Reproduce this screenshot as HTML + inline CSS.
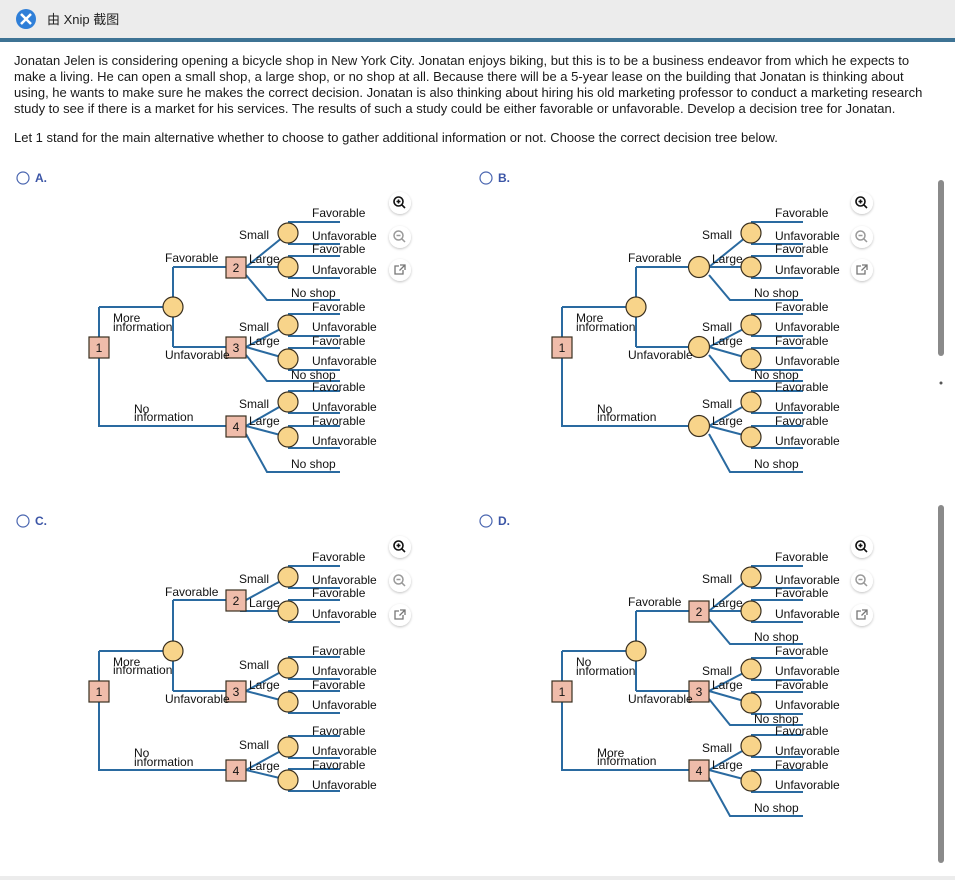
<!DOCTYPE html>
<html><head><meta charset="utf-8"><style>
html,body{margin:0;padding:0;background:#fff;width:955px;height:880px;overflow:hidden}
svg{display:block}
text{font-family:"Liberation Sans",Arial,sans-serif;font-size:12px;fill:#111}
.l{stroke:#2a6aa0;stroke-width:2;fill:none}
.c{fill:#f8d48a;stroke:#3a3020;stroke-width:1.2}
.b{fill:#efbcaa;stroke:#3a3020;stroke-width:1.2}
.p{font-size:13px;fill:#1a1a1a}
.n{text-anchor:middle;font-size:12px}
.e{text-anchor:end}
.opt{font-weight:bold;fill:#3b55a6;font-size:12px}
</style></head><body>
<svg width="955" height="880" viewBox="0 0 955 880" xmlns="http://www.w3.org/2000/svg">
<defs>
<filter id="sh" x="-50%" y="-50%" width="200%" height="200%"><feDropShadow dx="0" dy="1" stdDeviation="1.2" flood-color="#000" flood-opacity="0.25"/></filter>
</defs>
<rect x="0" y="0" width="955" height="38" fill="#ececec"/>
<rect x="0" y="38" width="955" height="4" fill="#3e7394"/>
<circle cx="26" cy="19" r="10" fill="#2f7fd8"/>
<path d="M21 14 L31 24 M31 14 L21 24" stroke="#fff" stroke-width="2.5"/>
<text x="47" y="24" style="font-size:13px;font-family:'Liberation Sans','Noto Sans CJK SC',sans-serif;fill:#222">由 Xnip 截图</text>
<rect x="0" y="876" width="955" height="4" fill="#ececec"/>
<rect x="938" y="180" width="6" height="176" rx="3" fill="#8a8a8a"/>
<rect x="938" y="505" width="6" height="358" rx="3" fill="#8a8a8a"/>
<circle cx="941" cy="383" r="1.5" fill="#555"/>

<text class="p" x="14" y="65">Jonatan Jelen is considering opening a bicycle shop in New York City. Jonatan enjoys biking, but this is to be a business endeavor from which he expects to</text>
<text class="p" x="14" y="81">make a living. He can open a small shop, a large shop, or no shop at all. Because there will be a 5-year lease on the building that Jonatan is thinking about</text>
<text class="p" x="14" y="97">using, he wants to make sure he makes the correct decision. Jonatan is also thinking about hiring his old marketing professor to conduct a marketing research</text>
<text class="p" x="14" y="113">study to see if there is a market for his services. The results of such a study could be either favorable or unfavorable. Develop a decision tree for Jonatan.</text>
<text class="p" x="14" y="142">Let 1 stand for the main alternative whether to choose to gather additional information or not. Choose the correct decision tree below.</text>

<circle cx="23" cy="178" r="6" fill="#fff" stroke="#4a66b0" stroke-width="1.2"/><text class="opt" x="35" y="182">A.</text>
<circle cx="486" cy="178" r="6" fill="#fff" stroke="#4a66b0" stroke-width="1.2"/><text class="opt" x="498" y="182">B.</text>
<circle cx="23" cy="521" r="6" fill="#fff" stroke="#4a66b0" stroke-width="1.2"/><text class="opt" x="35" y="525">C.</text>
<circle cx="486" cy="521" r="6" fill="#fff" stroke="#4a66b0" stroke-width="1.2"/><text class="opt" x="498" y="525">D.</text>

<g filter="url(#sh)"><circle cx="400" cy="203" r="11" fill="#fff"/><circle cx="400" cy="237" r="11" fill="#fff"/><circle cx="400" cy="270" r="11" fill="#fff"/>
<circle cx="862" cy="203" r="11" fill="#fff"/><circle cx="862" cy="237" r="11" fill="#fff"/><circle cx="862" cy="270" r="11" fill="#fff"/>
<circle cx="400" cy="547" r="11" fill="#fff"/><circle cx="400" cy="581" r="11" fill="#fff"/><circle cx="400" cy="615" r="11" fill="#fff"/>
<circle cx="862" cy="547" r="11" fill="#fff"/><circle cx="862" cy="581" r="11" fill="#fff"/><circle cx="862" cy="615" r="11" fill="#fff"/></g>
<g>
<g transform="translate(400,203)"><circle cx="-1.5" cy="-1.5" r="4.5" fill="none" stroke="#111" stroke-width="1.6"/><path d="M1.8 1.8 L5 5 M-1.5 -3.5 V0.5 M-3.5 -1.5 H0.5" stroke="#111" stroke-width="1.6"/></g>
<g transform="translate(400,237)"><circle cx="-1.5" cy="-1.5" r="4.5" fill="none" stroke="#999" stroke-width="1.5"/><path d="M1.8 1.8 L5 5 M-3.5 -1.5 H0.5" stroke="#999" stroke-width="1.5"/></g>
<g transform="translate(400,270)"><path d="M-1 -4 H-5 V4 H3 V0 M0 -5 H5 V0 M5 -5 L-0.5 0.5" fill="none" stroke="#777" stroke-width="1.3"/></g>
<g transform="translate(862,203)"><circle cx="-1.5" cy="-1.5" r="4.5" fill="none" stroke="#111" stroke-width="1.6"/><path d="M1.8 1.8 L5 5 M-1.5 -3.5 V0.5 M-3.5 -1.5 H0.5" stroke="#111" stroke-width="1.6"/></g>
<g transform="translate(862,237)"><circle cx="-1.5" cy="-1.5" r="4.5" fill="none" stroke="#999" stroke-width="1.5"/><path d="M1.8 1.8 L5 5 M-3.5 -1.5 H0.5" stroke="#999" stroke-width="1.5"/></g>
<g transform="translate(862,270)"><path d="M-1 -4 H-5 V4 H3 V0 M0 -5 H5 V0 M5 -5 L-0.5 0.5" fill="none" stroke="#777" stroke-width="1.3"/></g>
<g transform="translate(400,547)"><circle cx="-1.5" cy="-1.5" r="4.5" fill="none" stroke="#111" stroke-width="1.6"/><path d="M1.8 1.8 L5 5 M-1.5 -3.5 V0.5 M-3.5 -1.5 H0.5" stroke="#111" stroke-width="1.6"/></g>
<g transform="translate(400,581)"><circle cx="-1.5" cy="-1.5" r="4.5" fill="none" stroke="#999" stroke-width="1.5"/><path d="M1.8 1.8 L5 5 M-3.5 -1.5 H0.5" stroke="#999" stroke-width="1.5"/></g>
<g transform="translate(400,615)"><path d="M-1 -4 H-5 V4 H3 V0 M0 -5 H5 V0 M5 -5 L-0.5 0.5" fill="none" stroke="#777" stroke-width="1.3"/></g>
<g transform="translate(862,547)"><circle cx="-1.5" cy="-1.5" r="4.5" fill="none" stroke="#111" stroke-width="1.6"/><path d="M1.8 1.8 L5 5 M-1.5 -3.5 V0.5 M-3.5 -1.5 H0.5" stroke="#111" stroke-width="1.6"/></g>
<g transform="translate(862,581)"><circle cx="-1.5" cy="-1.5" r="4.5" fill="none" stroke="#999" stroke-width="1.5"/><path d="M1.8 1.8 L5 5 M-3.5 -1.5 H0.5" stroke="#999" stroke-width="1.5"/></g>
<g transform="translate(862,615)"><path d="M-1 -4 H-5 V4 H3 V0 M0 -5 H5 V0 M5 -5 L-0.5 0.5" fill="none" stroke="#777" stroke-width="1.3"/></g>
</g>

<!-- TREE A -->
<g>
<path class="l" d="M99,307 V426 H236 M99,307 H173 M173,267 V347 M173,267 H236 M173,347 H236"/>
<path class="l" d="M246,267 L288,233 M246,267 L288,267 M246,275 L267,300 H340 M288,222 H340 M288,244 H340 M288,256 H340 M288,278 H340"/>
<path class="l" d="M246,347 L288,325 M246,347 L288,359 M246,355 L267,381 H340 M288,314 H340 M288,336 H340 M288,348 H340 M288,370 H340"/>
<path class="l" d="M246,426 L288,402 M246,426 L288,437 M246,434 L267,472 H340 M288,391 H340 M288,413 H340 M288,426 H340 M288,448 H340"/>
<circle class="c" cx="173" cy="307" r="10"/>
<circle class="c" cx="288" cy="233" r="10"/><circle class="c" cx="288" cy="267" r="10"/>
<circle class="c" cx="288" cy="325" r="10"/><circle class="c" cx="288" cy="359" r="10"/>
<circle class="c" cx="288" cy="402" r="10"/><circle class="c" cx="288" cy="437" r="10"/>
<rect class="b" x="89" y="337" width="20" height="21"/><text class="n" x="99" y="352">1</text>
<rect class="b" x="226" y="257" width="20" height="21"/><text class="n" x="236" y="272">2</text>
<rect class="b" x="226" y="337" width="20" height="21"/><text class="n" x="236" y="352">3</text>
<rect class="b" x="226" y="416" width="20" height="21"/><text class="n" x="236" y="431">4</text>
<text x="165" y="262">Favorable</text>
<text x="113" y="322">More</text><text x="113" y="331">information</text>
<text x="165" y="359">Unfavorable</text>
<text x="134" y="413">No</text><text x="134" y="421">information</text>
<text class="e" x="269" y="239">Small</text><text x="249" y="263">Large</text>
<text x="312" y="217">Favorable</text><text x="312" y="240">Unfavorable</text><text x="312" y="253">Favorable</text><text x="312" y="274">Unfavorable</text><text x="291" y="297">No shop</text>
<text class="e" x="269" y="331">Small</text><text x="249" y="345">Large</text>
<text x="312" y="311">Favorable</text><text x="312" y="331">Unfavorable</text><text x="312" y="345">Favorable</text><text x="312" y="365">Unfavorable</text><text x="291" y="379">No shop</text>
<text class="e" x="269" y="408">Small</text><text x="249" y="425">Large</text>
<text x="312" y="391">Favorable</text><text x="312" y="411">Unfavorable</text><text x="312" y="425">Favorable</text><text x="312" y="445">Unfavorable</text><text x="291" y="468">No shop</text>
</g>

<!-- TREE B -->
<g transform="translate(463,0)">
<path class="l" d="M99,307 V426 H236 M99,307 H173 M173,267 V347 M173,267 H236 M173,347 H236"/>
<path class="l" d="M246,267 L288,233 M246,267 L288,267 M246,275 L267,300 H340 M288,222 H340 M288,244 H340 M288,256 H340 M288,278 H340"/>
<path class="l" d="M246,347 L288,325 M246,347 L288,359 M246,355 L267,381 H340 M288,314 H340 M288,336 H340 M288,348 H340 M288,370 H340"/>
<path class="l" d="M246,426 L288,402 M246,426 L288,437 M246,434 L267,472 H340 M288,391 H340 M288,413 H340 M288,426 H340 M288,448 H340"/>
<circle class="c" cx="173" cy="307" r="10"/>
<circle class="c" cx="288" cy="233" r="10"/><circle class="c" cx="288" cy="267" r="10"/>
<circle class="c" cx="288" cy="325" r="10"/><circle class="c" cx="288" cy="359" r="10"/>
<circle class="c" cx="288" cy="402" r="10"/><circle class="c" cx="288" cy="437" r="10"/>
<rect class="b" x="89" y="337" width="20" height="21"/><text class="n" x="99" y="352">1</text>
<circle class="c" cx="236" cy="267" r="10.5"/>
<circle class="c" cx="236" cy="347" r="10.5"/>
<circle class="c" cx="236" cy="426" r="10.5"/>
<text x="165" y="262">Favorable</text>
<text x="113" y="322">More</text><text x="113" y="331">information</text>
<text x="165" y="359">Unfavorable</text>
<text x="134" y="413">No</text><text x="134" y="421">information</text>
<text class="e" x="269" y="239">Small</text><text x="249" y="263">Large</text>
<text x="312" y="217">Favorable</text><text x="312" y="240">Unfavorable</text><text x="312" y="253">Favorable</text><text x="312" y="274">Unfavorable</text><text x="291" y="297">No shop</text>
<text class="e" x="269" y="331">Small</text><text x="249" y="345">Large</text>
<text x="312" y="311">Favorable</text><text x="312" y="331">Unfavorable</text><text x="312" y="345">Favorable</text><text x="312" y="365">Unfavorable</text><text x="291" y="379">No shop</text>
<text class="e" x="269" y="408">Small</text><text x="249" y="425">Large</text>
<text x="312" y="391">Favorable</text><text x="312" y="411">Unfavorable</text><text x="312" y="425">Favorable</text><text x="312" y="445">Unfavorable</text><text x="291" y="468">No shop</text>
</g>

<!-- TREE C -->
<g>
<path class="l" d="M99,651 V770 H236 M99,651 H173 M173,600 V691 M173,600 H236 M173,691 H236"/>
<path class="l" d="M246,600 L288,577 M240,611 H288 M288,566 H340 M288,588 H340 M288,600 H340 M288,622 H340"/>
<path class="l" d="M246,691 L288,668 M246,691 L288,702 M288,657 H340 M288,679 H340 M288,691 H340 M288,713 H340"/>
<path class="l" d="M246,770 L288,747 M246,770 L288,780 M288,736 H340 M288,758 H340 M288,769 H340 M288,791 H340"/>
<circle class="c" cx="173" cy="651" r="10"/>
<circle class="c" cx="288" cy="577" r="10"/><circle class="c" cx="288" cy="611" r="10"/>
<circle class="c" cx="288" cy="668" r="10"/><circle class="c" cx="288" cy="702" r="10"/>
<circle class="c" cx="288" cy="747" r="10"/><circle class="c" cx="288" cy="780" r="10"/>
<rect class="b" x="89" y="681" width="20" height="21"/><text class="n" x="99" y="696">1</text>
<rect class="b" x="226" y="590" width="20" height="21"/><text class="n" x="236" y="605">2</text>
<rect class="b" x="226" y="681" width="20" height="21"/><text class="n" x="236" y="696">3</text>
<rect class="b" x="226" y="760" width="20" height="21"/><text class="n" x="236" y="775">4</text>
<text x="165" y="596">Favorable</text>
<text x="113" y="666">More</text><text x="113" y="674">information</text>
<text x="165" y="703">Unfavorable</text>
<text x="134" y="757">No</text><text x="134" y="766">information</text>
<text class="e" x="269" y="583">Small</text><text x="249" y="607">Large</text>
<text x="312" y="561">Favorable</text><text x="312" y="584">Unfavorable</text><text x="312" y="597">Favorable</text><text x="312" y="618">Unfavorable</text>
<text class="e" x="269" y="669">Small</text><text x="249" y="689">Large</text>
<text x="312" y="655">Favorable</text><text x="312" y="675">Unfavorable</text><text x="312" y="689">Favorable</text><text x="312" y="709">Unfavorable</text>
<text class="e" x="269" y="749">Small</text><text x="249" y="770">Large</text>
<text x="312" y="735">Favorable</text><text x="312" y="755">Unfavorable</text><text x="312" y="769">Favorable</text><text x="312" y="789">Unfavorable</text>
</g>

<!-- TREE D -->
<g transform="translate(463,344)">
<path class="l" d="M99,307 V426 H236 M99,307 H173 M173,267 V347 M173,267 H236 M173,347 H236"/>
<path class="l" d="M246,267 L288,233 M246,267 L288,267 M246,275 L267,300 H340 M288,222 H340 M288,244 H340 M288,256 H340 M288,278 H340"/>
<path class="l" d="M246,347 L288,325 M246,347 L288,359 M246,355 L267,381 H340 M288,314 H340 M288,336 H340 M288,348 H340 M288,370 H340"/>
<path class="l" d="M246,426 L288,402 M246,426 L288,437 M246,434 L267,472 H340 M288,391 H340 M288,413 H340 M288,426 H340 M288,448 H340"/>
<circle class="c" cx="173" cy="307" r="10"/>
<circle class="c" cx="288" cy="233" r="10"/><circle class="c" cx="288" cy="267" r="10"/>
<circle class="c" cx="288" cy="325" r="10"/><circle class="c" cx="288" cy="359" r="10"/>
<circle class="c" cx="288" cy="402" r="10"/><circle class="c" cx="288" cy="437" r="10"/>
<rect class="b" x="89" y="337" width="20" height="21"/><text class="n" x="99" y="352">1</text>
<rect class="b" x="226" y="257" width="20" height="21"/><text class="n" x="236" y="272">2</text>
<rect class="b" x="226" y="337" width="20" height="21"/><text class="n" x="236" y="352">3</text>
<rect class="b" x="226" y="416" width="20" height="21"/><text class="n" x="236" y="431">4</text>
<text x="165" y="262">Favorable</text>
<text x="113" y="322">No</text><text x="113" y="331">information</text>
<text x="165" y="359">Unfavorable</text>
<text x="134" y="413">More</text><text x="134" y="421">information</text>
<text class="e" x="269" y="239">Small</text><text x="249" y="263">Large</text>
<text x="312" y="217">Favorable</text><text x="312" y="240">Unfavorable</text><text x="312" y="253">Favorable</text><text x="312" y="274">Unfavorable</text><text x="291" y="297">No shop</text>
<text class="e" x="269" y="331">Small</text><text x="249" y="345">Large</text>
<text x="312" y="311">Favorable</text><text x="312" y="331">Unfavorable</text><text x="312" y="345">Favorable</text><text x="312" y="365">Unfavorable</text><text x="291" y="379">No shop</text>
<text class="e" x="269" y="408">Small</text><text x="249" y="425">Large</text>
<text x="312" y="391">Favorable</text><text x="312" y="411">Unfavorable</text><text x="312" y="425">Favorable</text><text x="312" y="445">Unfavorable</text><text x="291" y="468">No shop</text>
</g>
</svg>
</body></html>
